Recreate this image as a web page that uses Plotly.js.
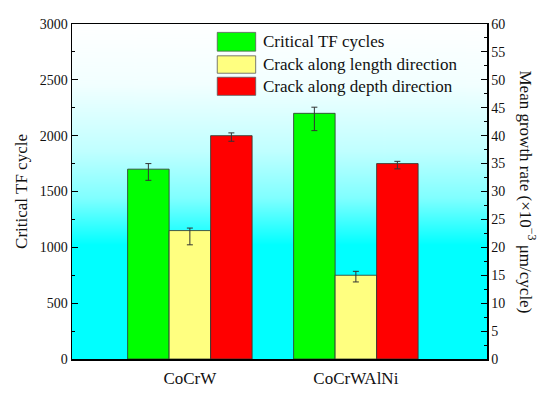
<!DOCTYPE html>
<html>
<head>
<meta charset="utf-8">
<script src="https://cdn.plot.ly/plotly-3.0.1.min.js"></script>
<style>html,body{margin:0;padding:0;background:#fff;}#chart{width:550px;height:396px;}</style>
</head>
<body>
<div id="chart"></div>
<script>
// ---- data ----
var categories = ["CoCrW", "CoCrWAlNi"];
var criticalCycles = [1700, 2200];
var cyclesErrPlus = [50, 55];
var cyclesErrMinus = [100, 155];
var lengthRate = [23, 15];
var lengthErrPlus = [0.45, 0.7];
var lengthErrMinus = [2.55, 1.2];
var depthRate = [40, 35];
var depthErrPlus = [0.5, 0.4];
var depthErrMinus = [1.0, 0.95];
var seriesNames = ["Critical TF cycles", "Crack along length direction", "Crack along depth direction"];
var seriesColors = ["#00ff00", "#ffff80", "#ff0000"];

// gradient background image
var cv = document.createElement('canvas');
cv.width = 10; cv.height = 335;
var ctx = cv.getContext('2d');
var g = ctx.createLinearGradient(0, 0, 0, 335);
g.addColorStop(0, '#ffffff');
g.addColorStop(0.18, '#f2ffff');
g.addColorStop(0.38, '#c0ffff');
g.addColorStop(0.52, '#80ffff');
g.addColorStop(0.66, '#00ffff');
g.addColorStop(1, '#00ffff');
ctx.fillStyle = g;
ctx.fillRect(0, 0, 10, 335);
var bgURL = cv.toDataURL();

var font = "Liberation Serif, Times New Roman, serif";
var lineStyle = {color: 'rgba(50,60,50,0.85)', width: 1};
function err(p, m) {
  return {type: 'data', symmetric: false, array: p, arrayminus: m, color: '#333', thickness: 1, width: 3};
}

var traces = [
  {type: 'bar', name: seriesNames[0], x: categories, y: criticalCycles, yaxis: 'y',
   width: 0.25, offset: -0.375, marker: {color: seriesColors[0], line: lineStyle},
   error_y: err(cyclesErrPlus, cyclesErrMinus)},
  {type: 'bar', name: seriesNames[1], x: categories, y: lengthRate, yaxis: 'y2',
   width: 0.25, offset: -0.125, marker: {color: seriesColors[1], line: lineStyle},
   error_y: err(lengthErrPlus, lengthErrMinus)},
  {type: 'bar', name: seriesNames[2], x: categories, y: depthRate, yaxis: 'y2',
   width: 0.25, offset: 0.125, marker: {color: seriesColors[2], line: lineStyle},
   error_y: err(depthErrPlus, depthErrMinus)}
];

// legend drawn as swatches + text
var legendRows = [[0.975, 0.919], [0.905, 0.853], [0.841, 0.787]];
var shapes = [], annotations = [];
for (var i = 0; i < 3; i++) {
  shapes.push({type: 'rect', xref: 'paper', yref: 'paper', x0: 0.350, x1: 0.4426,
    y0: legendRows[i][1], y1: legendRows[i][0], fillcolor: seriesColors[i],
    line: {color: 'rgba(90,90,90,0.8)', width: 1}});
  annotations.push({xref: 'paper', yref: 'paper', x: 0.4547, y: (legendRows[i][0] + legendRows[i][1]) / 2,
    xanchor: 'left', yanchor: 'middle', text: seriesNames[i], showarrow: false,
    font: {family: font, size: 17, color: '#111'}});
}
annotations.push({xref: 'paper', yref: 'paper', x: 1 + 41 / 415, y: 0.5, xanchor: 'center', yanchor: 'middle',
  textangle: 90, showarrow: false,
  text: "Mean growth rate (\u00d710<sup>\u22123</sup> \u03bcm/cycle)",
  font: {family: font, size: 17, color: '#111'}});

var layout = {
  width: 550, height: 396,
  margin: {l: 72, r: 63, t: 24, b: 37},
  paper_bgcolor: '#ffffff',
  plot_bgcolor: 'rgba(0,0,0,0)',
  showlegend: false,
  barmode: 'overlay',
  font: {family: font, size: 14, color: '#111'},
  images: [{source: bgURL, xref: 'paper', yref: 'paper', x: 0, y: 1, sizex: 1, sizey: 1,
    sizing: 'stretch', layer: 'below'}],
  xaxis: {type: 'category', range: [-0.71, 1.79], showline: true, mirror: true, linecolor: '#000', linewidth: 1.5,
    ticks: '', showgrid: false, zeroline: false, tickfont: {family: font, size: 17, color: '#111'},
    ticklabelstandoff: 3},
  yaxis: {range: [0, 3000], dtick: 500, showline: true, linecolor: '#000', linewidth: 1.5,
    ticks: 'inside', ticklen: 6, tickcolor: '#000', tickwidth: 1,
    minor: {ticks: 'inside', ticklen: 3, dtick: 250, tickcolor: '#000', tickwidth: 1, showgrid: false},
    showgrid: false, zeroline: false, tickfont: {family: font, size: 14, color: '#111'},
    title: {text: 'Critical TF cycle', font: {family: font, size: 17, color: '#111'}, standoff: 8}},
  yaxis2: {overlaying: 'y', side: 'right', range: [0, 60], dtick: 5, showline: true, linecolor: '#000', linewidth: 1.5,
    ticks: 'inside', ticklen: 6, tickcolor: '#000', tickwidth: 1,
    minor: {ticks: 'inside', ticklen: 3, dtick: 2.5, tickcolor: '#000', tickwidth: 1, showgrid: false},
    showgrid: false, zeroline: false, tickfont: {family: font, size: 14, color: '#111'}},
  shapes: shapes,
  annotations: annotations
};

Plotly.newPlot('chart', traces, layout, {displayModeBar: false, staticPlot: true});
</script>
</body>
</html>
